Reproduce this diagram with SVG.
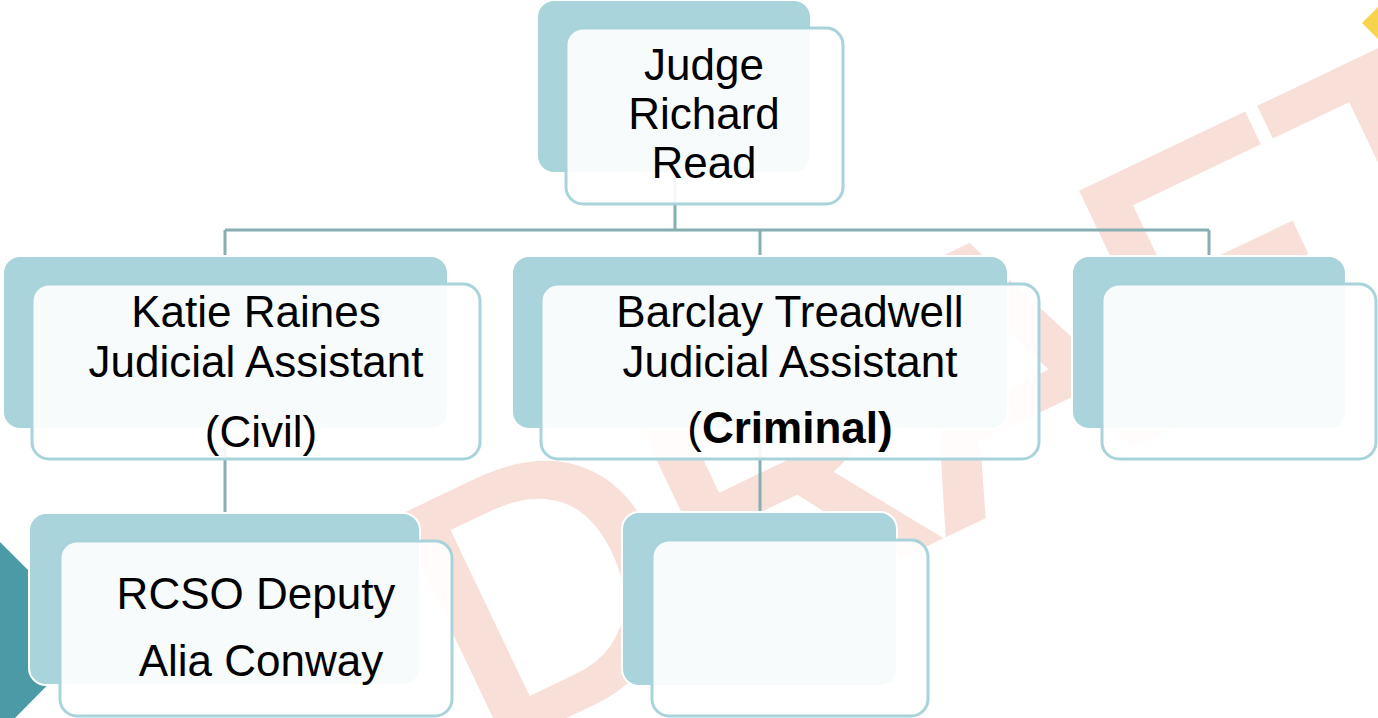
<svg xmlns="http://www.w3.org/2000/svg" width="1378" height="718" viewBox="0 0 1378 718">
  <style>
    .back { fill: #AAD4DB; stroke: #FFFFFF; stroke-width: 2; }
    .front { fill: #FFFFFF; fill-opacity: 0.9; stroke: #A9D3DB; stroke-width: 3; }
    .lbl { font-family: "Liberation Sans", Arial, sans-serif; font-size: 44px; fill: #000000; text-anchor: middle; }
    .bold { font-weight: bold; }
    .conn { stroke: #86AEB3; stroke-width: 3; fill: none; }
    .wm { font-family: "Liberation Sans", Arial, sans-serif; font-size: 358px; fill: #F8DFD8; stroke: #F8DFD8; stroke-width: 9; stroke-linejoin: miter; }
  </style>
  <rect x="0" y="0" width="1378" height="718" fill="#FFFFFF"/>
  <g id="decor">
    <polygon points="0,542 95,637 15,718 0,718" fill="#4B9BA6"/>
    <polygon points="1362,23 1378,7 1394,23 1378,39" fill="#F8D44C"/>
  </g>
  <g id="watermark">
    <text class="wm" transform="translate(482.4,753.2) rotate(-25.5)">DRAFT</text>
  </g>
  <g id="connectors">
    <path class="conn" d="M675,173 V230 M225,230 H1209 M225,230 V256 M760,230 V256 M1209,230 V256"/>
    <path class="conn" d="M225,429 V513"/>
    <path class="conn" d="M760,429 V512"/>
  </g>
  <g id="node-judge">
    <rect class="back" x="537" y="0" width="274" height="173" rx="17"/>
    <rect class="front" x="566" y="28" width="277" height="176" rx="17"/>
    <text class="lbl" x="704" y="80">Judge</text>
    <text class="lbl" x="704" y="129">Richard</text>
    <text class="lbl" x="704" y="178">Read</text>
  </g>
  <g id="node-katie">
    <rect class="back" x="3" y="256" width="445" height="173" rx="17"/>
    <rect class="front" x="32" y="284" width="448" height="175" rx="17"/>
    <text class="lbl" x="256" y="327">Katie Raines</text>
    <text class="lbl" x="256" y="377">Judicial Assistant</text>
    <text class="lbl" x="261" y="447">(Civil)</text>
  </g>
  <g id="node-barclay">
    <rect class="back" x="512" y="256" width="496" height="173" rx="17"/>
    <rect class="front" x="541" y="284" width="498" height="175" rx="17"/>
    <text class="lbl" x="790" y="327">Barclay Treadwell</text>
    <text class="lbl" x="790" y="377">Judicial Assistant</text>
    <text class="lbl" x="790" y="443">(<tspan class="bold">Criminal)</tspan></text>
  </g>
  <g id="node-empty-right">
    <rect class="back" x="1072" y="256" width="274" height="173" rx="17"/>
    <rect class="front" x="1102" y="284" width="274" height="175" rx="17"/>
  </g>
  <g id="node-rcso">
    <rect class="back" x="29" y="513" width="391" height="172" rx="17"/>
    <rect class="front" x="60" y="541" width="392" height="175" rx="17"/>
    <text class="lbl" x="256" y="609">RCSO Deputy</text>
    <text class="lbl" x="261" y="676">Alia Conway</text>
  </g>
  <g id="node-empty-bottom">
    <rect class="back" x="622" y="512" width="275" height="174" rx="17"/>
    <rect class="front" x="652" y="540" width="276" height="176" rx="17"/>
  </g>
</svg>
